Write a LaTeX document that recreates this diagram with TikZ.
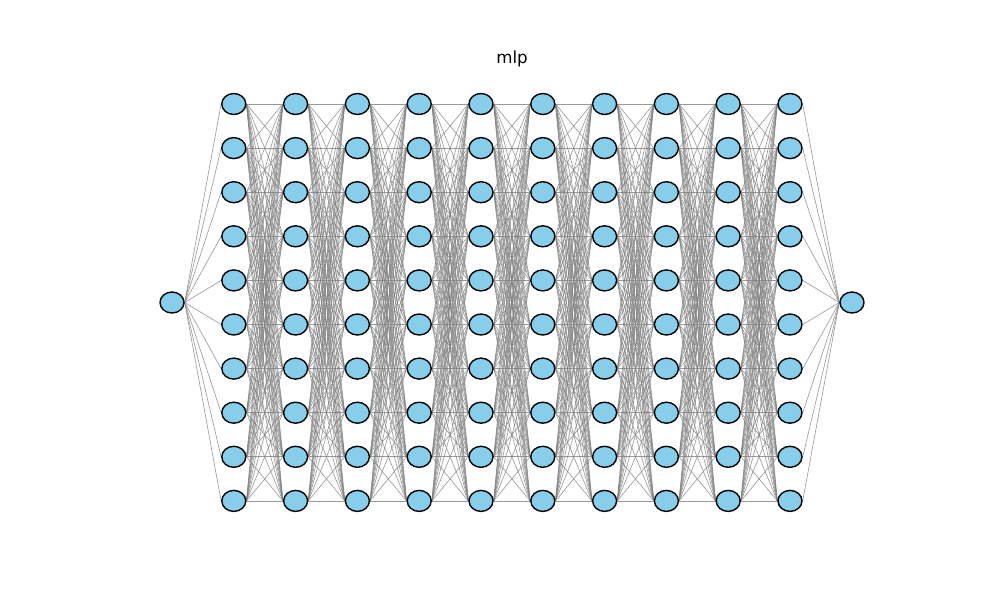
\documentclass[tikz,border=0pt]{standalone}
\usepackage{fontspec}
\setmainfont{DejaVu Sans}
\usetikzlibrary{backgrounds,shapes.geometric}
\definecolor{skyblue}{RGB}{135,206,235}
\definecolor{edgegray}{RGB}{128,128,128}
\newlength{\px}
\setlength{\px}{0.72pt}
\tikzset{
  neuron/.style={ellipse,draw=black,line width=1pt,fill=skyblue,minimum width=24\px,minimum height=21\px,inner sep=0pt},
  conn/.style={draw=edgegray,draw opacity=0.8,line width=0.45pt},
}
\begin{document}
\begin{tikzpicture}[x=0.72pt,y=-0.72pt]
\useasboundingbox (0,0) rectangle (1000,600);
\node[font=\fontsize{12}{14}\selectfont] (title) at (512,59) {mlp};
\node[neuron] (in) at (172,302.5) {};
\foreach \l in {1,...,10}{
  \foreach \n in {1,...,10}{
    \node[neuron] (h\l-\n) at ({172+61.8*\l},{104+44.1*(\n-1)}) {};
  }
}
\node[neuron] (out) at (852,302.5) {};
\begin{scope}[on background layer]
\foreach \n in {1,...,10}{
  \draw[conn] (in.east) -- (h1-\n.west);
  \draw[conn] (h10-\n.east) -- (out.west);
}
\foreach \l [evaluate=\l as \m using int(\l+1)] in {1,...,9}{
  \foreach \a in {1,...,10}{
    \foreach \b in {1,...,10}{
      \draw[conn] (h\l-\a.east) -- (h\m-\b.west);
    }
  }
}
\end{scope}
\end{tikzpicture}
\end{document}
